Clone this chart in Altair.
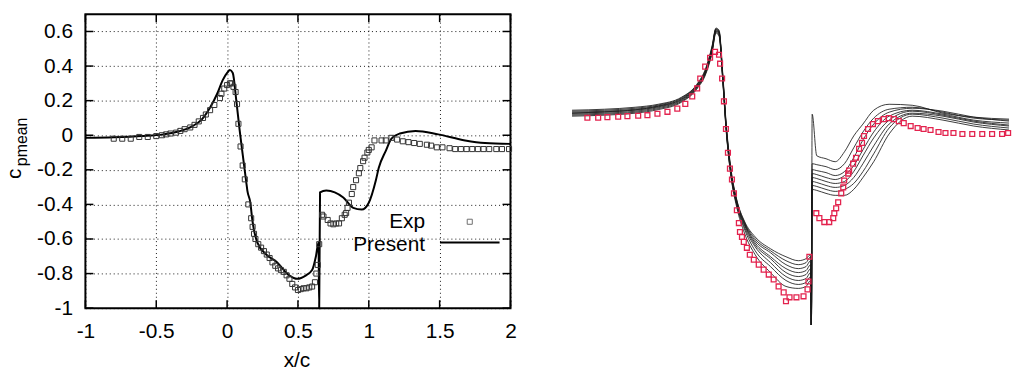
import altair as alt
import pandas as pd

# ---------------- Left panel data ----------------
present_x = [-1.0, -0.8, -0.6, -0.45, -0.35, -0.25, -0.18, -0.12, -0.07, -0.03,
             0.0, 0.02, 0.04, 0.065, 0.087, 0.11, 0.135, 0.143, 0.164, 0.178,
             0.213, 0.276, 0.346, 0.438, 0.494, 0.557, 0.6, 0.627, 0.645, 0.65,
             0.656, 0.70, 0.76, 0.82, 0.89, 0.95, 1.0, 1.05, 1.07, 1.12,
             1.16, 1.22, 1.33, 1.49, 1.68, 1.82, 2.0]
present_cp = [-0.015, -0.012, -0.005, 0.005, 0.02, 0.05, 0.09, 0.16, 0.24, 0.32,
              0.36, 0.377, 0.36, 0.2, 0.04, -0.11, -0.27, -0.32, -0.39, -0.49,
              -0.62, -0.69, -0.73, -0.81, -0.83, -0.81, -0.78, -0.70, -0.62, -1.0,
              -0.33, -0.32, -0.33, -0.36, -0.42, -0.43, -0.39, -0.26, -0.19, -0.09,
              -0.02, 0.01, 0.025, 0.005, -0.03, -0.045, -0.05]

exp_x = [-0.80, -0.74, -0.68, -0.62, -0.56, -0.50, -0.46, -0.43, -0.40, -0.36,
         -0.33, -0.30, -0.26, -0.23, -0.20, -0.17, -0.15, -0.12, -0.09, -0.05,
         -0.04, -0.02, 0.0, 0.02, 0.03, 0.045, 0.06, 0.07, 0.08, 0.095,
         0.11, 0.125, 0.15, 0.17, 0.18, 0.19, 0.20, 0.22, 0.24, 0.26,
         0.28, 0.30, 0.32, 0.34, 0.36, 0.38, 0.40, 0.42, 0.44, 0.46,
         0.48, 0.50, 0.52, 0.54, 0.56, 0.58, 0.60, 0.62, 0.63, 0.64,
         0.65, 0.67, 0.68, 0.71, 0.73, 0.75, 0.77, 0.79, 0.81, 0.83,
         0.84, 0.85, 0.86, 0.88, 0.89, 0.91, 0.93, 0.94, 0.96, 0.97,
         0.99, 1.0, 1.02, 1.04, 1.09, 1.12, 1.16, 1.2, 1.24, 1.28,
         1.32, 1.36, 1.41, 1.44, 1.48, 1.52, 1.57, 1.61, 1.65, 1.69,
         1.73, 1.77, 1.81, 1.85, 1.9, 1.94, 1.99]
exp_cp = [-0.02, -0.02, -0.02, -0.01, -0.01, -0.005, 0.0, 0.005, 0.01, 0.015,
          0.025, 0.035, 0.045, 0.06, 0.08, 0.10, 0.12, 0.145, 0.175, 0.215,
          0.24, 0.27, 0.29, 0.30, 0.30, 0.28, 0.25, 0.18, 0.066, -0.065,
          -0.175, -0.255, -0.40, -0.48, -0.53, -0.57, -0.60, -0.63, -0.65, -0.67,
          -0.69, -0.71, -0.735, -0.755, -0.77, -0.78, -0.79, -0.81, -0.83, -0.86,
          -0.88, -0.895, -0.89, -0.885, -0.885, -0.88, -0.875, -0.85, -0.80, -0.75,
          -0.63, -0.46, -0.47, -0.49, -0.51, -0.515, -0.51, -0.51, -0.48, -0.46,
          -0.45, -0.42, -0.39, -0.34, -0.30, -0.26, -0.22, -0.19, -0.15, -0.13,
          -0.10, -0.085, -0.07, -0.03, -0.03, -0.03, -0.015, -0.025, -0.035, -0.04,
          -0.045, -0.05, -0.055, -0.06, -0.07, -0.07, -0.075, -0.08, -0.08, -0.08,
          -0.08, -0.08, -0.08, -0.08, -0.08, -0.08, -0.08]

x_ticks = [-1, -0.5, 0, 0.5, 1, 1.5, 2]
y_ticks = [-1, -0.8, -0.6, -0.4, -0.2, 0, 0.2, 0.4, 0.6]
legend_labels = ["Exp", "Present"]
x_title = "x/c"
y_title_main = "c"
y_title_sub = "pmean"

# ---------------- Right panel data ----------------
exp2_x = [-0.81, -0.74, -0.68, -0.61, -0.55, -0.48, -0.42, -0.355, -0.29, -0.226,
          -0.174, -0.129, -0.097, -0.077, -0.045, -0.013, 0.019, 0.045, 0.052, 0.065,
          0.077, 0.09, 0.103, 0.116, 0.129, 0.142, 0.161, 0.174, 0.181, 0.194,
          0.206, 0.226, 0.245, 0.271, 0.303, 0.335, 0.368, 0.40, 0.432, 0.465,
          0.48, 0.503, 0.548, 0.594, 0.62, 0.626, 0.632,
          0.677, 0.697, 0.729,
          0.761, 0.787, 0.794, 0.806, 0.819, 0.839, 0.852, 0.858, 0.884, 0.89,
          0.916, 0.935, 0.955, 0.974, 0.987, 1.013, 1.045, 1.077, 1.116, 1.148,
          1.181, 1.213, 1.245, 1.29, 1.335, 1.374, 1.419, 1.471, 1.516, 1.568,
          1.626, 1.69, 1.755, 1.819, 1.884, 1.923]
exp2_cp = [-0.018, -0.018, -0.015, -0.013, -0.01, -0.008, -0.005, 0.002, 0.012, 0.028,
           0.052, 0.09, 0.13, 0.18, 0.24, 0.285, 0.315, 0.30, 0.255, 0.18,
           0.065, -0.075, -0.195, -0.275, -0.33, -0.40, -0.485, -0.55, -0.595, -0.62,
           -0.645, -0.675, -0.71, -0.735, -0.76, -0.785, -0.81, -0.835, -0.87, -0.90,
           -0.945, -0.925, -0.925, -0.92, -0.885, -0.845, -0.72,
           -0.50, -0.525, -0.545,
           -0.545, -0.525, -0.50, -0.475, -0.445, -0.40, -0.37, -0.335, -0.30, -0.285,
           -0.25, -0.22, -0.175, -0.145, -0.11, -0.075, -0.05, -0.035, -0.025, -0.02,
           -0.025, -0.035, -0.045, -0.06, -0.07, -0.075, -0.08, -0.09, -0.095, -0.095,
           -0.10, -0.10, -0.10, -0.10, -0.10, -0.095]

sim_x = [-0.91, -0.7, -0.5, -0.35, -0.2, -0.1, -0.04, 0.0, 0.025, 0.045,
         0.07, 0.09, 0.12, 0.16, 0.21, 0.28, 0.38, 0.48, 0.56, 0.61,
         0.64, 0.645, 0.65, 0.68, 0.74, 0.80, 0.86, 0.92, 0.98, 1.05,
         1.15, 1.3, 1.5, 1.7, 1.93]
sim_run1 = [0.02, 0.025, 0.035, 0.05, 0.085, 0.15, 0.235, 0.345, 0.435, 0.425,
            0.2, -0.03, -0.26, -0.43, -0.54, -0.62, -0.68, -0.72, -0.74, -0.73,
            -0.71, -1.08, 0.0, -0.21, -0.225, -0.24, -0.19, -0.11, -0.05, 0.02,
            0.05, 0.045, 0.005, -0.015, -0.025]
sim_run2 = [0.015, 0.02, 0.03, 0.046, 0.082, 0.147, 0.23, 0.34, 0.43, 0.42,
            0.19, -0.04, -0.27, -0.435, -0.545, -0.63, -0.69, -0.74, -0.76, -0.75,
            -0.72, -1.08, -0.25, -0.255, -0.265, -0.28, -0.25, -0.17, -0.09, -0.02,
            0.025, 0.035, 0.01, -0.02, -0.03]
sim_run3 = [0.01, 0.015, 0.025, 0.042, 0.078, 0.144, 0.226, 0.335, 0.43, 0.415,
            0.185, -0.045, -0.275, -0.44, -0.55, -0.64, -0.70, -0.76, -0.78, -0.77,
            -0.74, -1.08, -0.28, -0.285, -0.295, -0.31, -0.29, -0.22, -0.13, -0.05,
            0.01, 0.03, 0.015, -0.015, -0.035]
sim_run4 = [0.005, 0.012, 0.022, 0.04, 0.075, 0.14, 0.222, 0.33, 0.425, 0.415,
            0.18, -0.05, -0.28, -0.445, -0.555, -0.65, -0.72, -0.78, -0.80, -0.79,
            -0.76, -1.08, -0.30, -0.305, -0.32, -0.33, -0.31, -0.26, -0.18, -0.09,
            -0.01, 0.02, 0.0, -0.03, -0.045]
sim_run5 = [0.005, 0.01, 0.02, 0.037, 0.072, 0.137, 0.218, 0.325, 0.42, 0.41,
            0.175, -0.055, -0.285, -0.45, -0.56, -0.66, -0.73, -0.80, -0.82, -0.81,
            -0.78, -1.08, -0.32, -0.325, -0.34, -0.35, -0.34, -0.29, -0.21, -0.12,
            -0.03, 0.015, -0.005, -0.035, -0.055]
sim_run6 = [0.0, 0.005, 0.015, 0.033, 0.068, 0.134, 0.214, 0.32, 0.42, 0.405,
            0.17, -0.06, -0.29, -0.455, -0.57, -0.67, -0.75, -0.82, -0.84, -0.83,
            -0.80, -1.08, -0.34, -0.345, -0.36, -0.37, -0.36, -0.32, -0.25, -0.16,
            -0.05, 0.005, -0.01, -0.04, -0.06]
sim_run7 = [-0.005, 0.0, 0.01, 0.028, 0.064, 0.13, 0.21, 0.315, 0.415, 0.40,
            0.165, -0.065, -0.295, -0.46, -0.58, -0.69, -0.77, -0.84, -0.86, -0.85,
            -0.82, -1.08, -0.36, -0.365, -0.38, -0.39, -0.38, -0.35, -0.29, -0.20,
            -0.07, 0.0, -0.02, -0.05, -0.07]
sim_run8 = [-0.01, -0.005, 0.005, 0.023, 0.06, 0.126, 0.205, 0.31, 0.41, 0.395,
            0.16, -0.07, -0.30, -0.47, -0.60, -0.71, -0.80, -0.87, -0.88, -0.87,
            -0.84, -1.08, -0.38, -0.385, -0.40, -0.41, -0.41, -0.38, -0.32, -0.24,
            -0.10, -0.01, -0.03, -0.06, -0.08]
sim_runs = [sim_run1, sim_run2, sim_run3, sim_run4, sim_run5, sim_run6, sim_run7, sim_run8]

FONT = "Liberation Sans"
FS = 21
W, H = 428, 296
RW, RH = 440, 313

# ---------------- Left panel ----------------
xs = alt.Scale(domain=[-1, 2], nice=False, zero=False)
ys = alt.Scale(domain=[-1, 0.7], nice=False, zero=False)

present_df = pd.DataFrame({"x": present_x, "cp": present_cp, "k": list(range(len(present_x)))})
exp_df = pd.DataFrame({"x": exp_x, "cp": exp_cp})
xt_df = pd.DataFrame({"x": x_ticks})
yt_df = pd.DataFrame({"cp": y_ticks})

common_axis = dict(grid=True, gridDash=[1, 3], gridColor="black", gridWidth=1, gridOpacity=0.9,
                   ticks=False, domain=False, labelFont=FONT, labelFontSize=FS,
                   labelColor="black", labelFlush=False, labelOverlap=False, title="",
                   labelExpr="datum.value + ''")
x_axis = alt.Axis(values=x_ticks, labelPadding=13, **common_axis)
y_axis = alt.Axis(values=y_ticks, labelPadding=13, **common_axis)

X = alt.X("x:Q", scale=xs, axis=x_axis)
Y = alt.Y("cp:Q", scale=ys, axis=y_axis)

present = alt.Chart(present_df).mark_line(
    color="black", strokeWidth=2, interpolate="monotone"
).encode(x=X, y=Y, order=alt.Order("k:Q"))

exp_pts = alt.Chart(exp_df).mark_point(
    shape="square", filled=False, size=26, color="#333333", strokeWidth=1, opacity=1
).encode(x=X, y=Y)

tick_len = 8
top_ticks = alt.Chart(xt_df).mark_rule(color="black", strokeWidth=1.5).encode(
    x=X, y=alt.value(0), y2=alt.value(tick_len))
bot_ticks = alt.Chart(xt_df).mark_rule(color="black", strokeWidth=1.5).encode(
    x=X, y=alt.value(H - tick_len), y2=alt.value(H))
left_ticks = alt.Chart(yt_df).mark_rule(color="black", strokeWidth=1.5).encode(
    y=Y, x=alt.value(0), x2=alt.value(tick_len))
right_ticks = alt.Chart(yt_df).mark_rule(color="black", strokeWidth=1.5).encode(
    y=Y, x=alt.value(W - tick_len), x2=alt.value(W))

txt = dict(font=FONT, fontSize=FS, color="black")
leg_exp = alt.Chart(pd.DataFrame({"t": [legend_labels[0]]})).mark_text(
    align="right", baseline="alphabetic", **txt
).encode(text="t:N", x=alt.value(342), y=alt.value(215))
leg_present = alt.Chart(pd.DataFrame({"t": [legend_labels[1]]})).mark_text(
    align="right", baseline="alphabetic", **txt
).encode(text="t:N", x=alt.value(342), y=alt.value(238))
leg_sq = alt.Chart(pd.DataFrame({"t": [legend_labels[0]]})).mark_point(
    shape="square", filled=False, size=26, color="#333333", strokeWidth=1
).encode(x=alt.value(387), y=alt.value(209))
leg_line = alt.Chart(pd.DataFrame({"t": [legend_labels[1]]})).mark_rule(
    color="black", strokeWidth=2
).encode(x=alt.value(357), x2=alt.value(417), y=alt.value(230))

xtitle = alt.Chart(pd.DataFrame({"t": [x_title]})).mark_text(
    align="center", baseline="alphabetic", **txt
).encode(text="t:N", x=alt.value(213), y=alt.value(355))
ytitle_c = alt.Chart(pd.DataFrame({"t": [y_title_main]})).mark_text(
    align="left", baseline="alphabetic", angle=270, **txt
).encode(text="t:N", x=alt.value(-65), y=alt.value(166), angle=alt.value(270))
ytitle_sub = alt.Chart(pd.DataFrame({"t": [y_title_sub]})).mark_text(
    align="left", baseline="alphabetic", angle=270, font=FONT, fontSize=16, color="black"
).encode(text="t:N", x=alt.value(-59), y=alt.value(153), angle=alt.value(270))

anchor_df = pd.DataFrame({"a": [0]})
left_anchor = alt.Chart(anchor_df).mark_rule(strokeOpacity=0, strokeWidth=1).encode(
    x=alt.value(-84.5), x2=alt.value(437.5), y=alt.value(-11.5))

left = alt.layer(
    present, exp_pts, top_ticks, bot_ticks, left_ticks, right_ticks,
    leg_exp, leg_present, leg_sq, leg_line, xtitle, ytitle_c, ytitle_sub, left_anchor
).properties(
    width=W, height=H,
    view=alt.ViewBackground(stroke="black", strokeWidth=2, fill="white"),
)

# ---------------- Right panel ----------------
rxs = alt.Scale(domain=[-0.9097, 1.929], nice=False, zero=False)
rys = alt.Scale(domain=[-1.065, 0.505], nice=False, zero=False)

rows = []
for r, vals in enumerate(sim_runs):
    for k, (xv, yv) in enumerate(zip(sim_x, vals)):
        rows.append({"run": r, "k": k, "x": xv, "cp": yv})
sim_df = pd.DataFrame(rows)
exp2_df = pd.DataFrame({"x": exp2_x, "cp": exp2_cp})

sims = alt.Chart(sim_df).mark_line(
    color="#1a1a1a", strokeWidth=1, opacity=0.85, interpolate="monotone", clip=True
).encode(
    x=alt.X("x:Q", scale=rxs, axis=None),
    y=alt.Y("cp:Q", scale=rys, axis=None),
    detail="run:N",
    order=alt.Order("k:Q"),
)
exp2_pts = alt.Chart(exp2_df).mark_point(
    shape="square", filled=False, size=24, color="#e3234e", strokeWidth=1.3, opacity=1
).encode(
    x=alt.X("x:Q", scale=rxs, axis=None),
    y=alt.Y("cp:Q", scale=rys, axis=None),
)
right_anchor = alt.Chart(anchor_df).mark_rule(strokeOpacity=0, strokeWidth=1).encode(
    x=alt.value(0.5), x2=alt.value(10), y=alt.value(-11.5))

right = alt.layer(sims, exp2_pts, right_anchor).properties(
    width=RW, height=RH,
    view=alt.ViewBackground(strokeOpacity=0, fill="white"),
)

chart = alt.hconcat(left, right, spacing=51).properties(
    padding=0, background="white"
)

chart.save("out.html", embed_options={"renderer": "svg", "actions": False})
